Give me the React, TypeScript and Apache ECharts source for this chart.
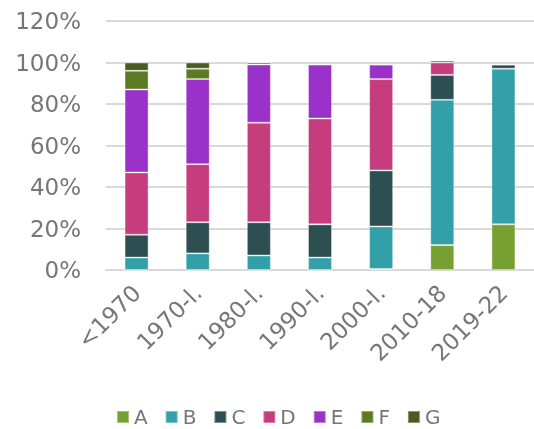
import React, { useEffect, useRef } from "react";
import * as echarts from "echarts";

const categories = ["<1970", "1970-l.", "1980-l.", "1990-l.", "2000-l.", "2010-18", "2019-22"];
const seriesNames = ["A", "B", "C", "D", "E", "F", "G"];
const valuesA = [0, 0, 0, 0, 0.5, 12, 22];
const valuesB = [6, 8, 7, 6, 20.5, 70, 75];
const valuesC = [11, 15, 16, 16, 27, 12, 2];
const valuesD = [30, 28, 48, 51, 44, 6, 0];
const valuesE = [40, 41, 28, 26, 7, 1, 0];
const valuesF = [9, 5, 1, 0, 0, 0, 0];
const valuesG = [4, 3, 0, 0, 0, 0, 0];
const colors = ["#77a032", "#339fa8", "#2e4f52", "#c63d7d", "#9a32c9", "#5b7a22", "#4a5c20"];
const yTicks = { min: 0, max: 120, interval: 20 };

export default function App() {
  const ref = useRef<HTMLDivElement>(null);
  useEffect(() => {
    if (!ref.current) return;
    const chart = echarts.init(ref.current, undefined, { renderer: "svg" });
    const all = [valuesA, valuesB, valuesC, valuesD, valuesE, valuesF, valuesG];
    const font = "DejaVu Sans";
    chart.setOption({
      animation: false,
      color: colors,
      textStyle: { fontFamily: font },
      grid: { left: 106, right: 0, top: 21, bottom: 159, containLabel: false },
      legend: {
        bottom: 2,
        left: 116,
        padding: 0,
        itemWidth: 12,
        itemHeight: 12,
        itemGap: 17,
        icon: "rect",
        textStyle: { fontSize: 20, color: "#767676", fontFamily: font },
        data: seriesNames,
      },
      xAxis: {
        type: "category",
        data: categories,
        axisLine: { show: true, lineStyle: { color: "#d9d9d9", width: 2 } },
        axisTick: { show: false },
        axisLabel: { rotate: 45, fontSize: 23, color: "#767676", margin: 19, fontFamily: font, interval: 0 },
      },
      yAxis: {
        type: "value",
        min: yTicks.min,
        max: yTicks.max,
        interval: yTicks.interval,
        axisLine: { show: false },
        axisTick: { show: false },
        splitLine: { lineStyle: { color: "#d9d9d9", width: 2 } },
        axisLabel: { formatter: "{value}%", fontSize: 23, color: "#767676", margin: 25, fontFamily: font },
      },
      series: seriesNames.map((n, i) => ({
        name: n,
        type: "bar",
        stack: "total",
        barWidth: 24,
        data: all[i],
        itemStyle: { borderColor: "rgba(255,255,255,0.35)", borderWidth: 1 },
      })),
    });
    return () => chart.dispose();
  }, []);
  return <div ref={ref} style={{ position: "fixed", left: 0, top: 0, width: 534, height: 429 }} />;
}
